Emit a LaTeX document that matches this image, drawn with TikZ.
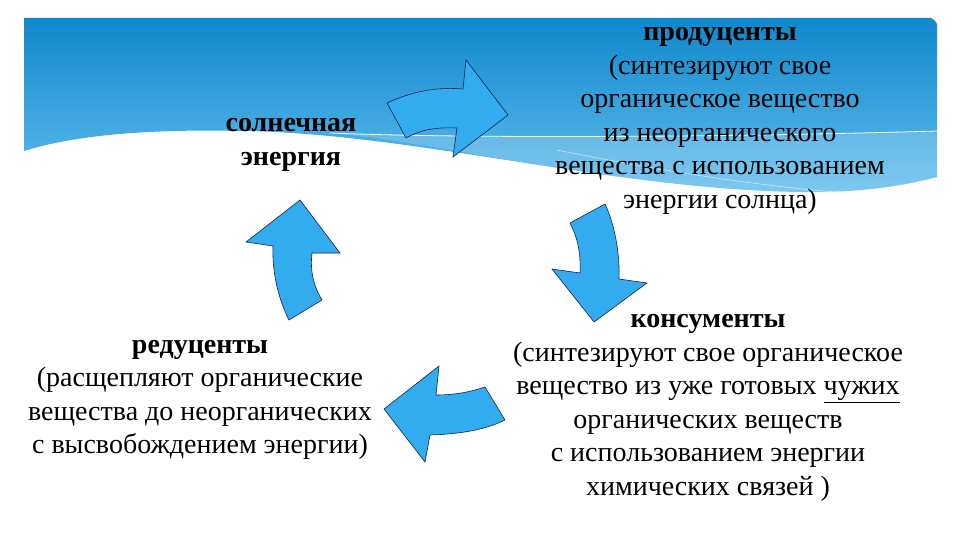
\documentclass[tikz,border=0pt]{standalone}
\usepackage{fontspec}
\setmainfont[Ligatures=TeX]{Liberation Serif}
\definecolor{bannertop}{RGB}{16,136,204}
\definecolor{bannerbot}{RGB}{98,190,238}
\definecolor{arrowblue}{RGB}{50,172,238}
\definecolor{arrowline}{RGB}{20,35,80}
\tikzset{
  cycletext/.style={align=center,inner sep=0pt,font=\fontsize{28}{33.5}\selectfont},
  cyclearrow/.style={fill=arrowblue,draw=arrowline,line width=.6pt,line join=miter}
}
\begin{document}
\begin{tikzpicture}[x=1pt,y=-1pt]
\useasboundingbox (0,0) rectangle (960,540);
% banner with wavy lower edge
\shade[top color=bannertop,bottom color=bannerbot]
  (24,151) -- (24,18) -- (931,18) to[bend left=20] (937,24) -- (937,177)
  .. controls (880,192) and (820,196) .. (720,188)
  .. controls (560,175) and (400,135) .. (250,131)
  .. controls (120,128) and (60,140) .. (24,151) -- cycle;
\fill[white,opacity=.18]
  (330,133) .. controls (450,138) and (700,138) .. (937,131) -- (937,177)
  .. controls (880,192) and (820,196) .. (720,188)
  .. controls (560,175) and (420,140) .. (330,133) -- cycle;
\draw[white,line width=.8pt] (330,133) .. controls (450,138) and (700,138) .. (937,131);
\draw[white,opacity=.6,line width=.6pt] (557,150) .. controls (680,175) and (780,188) .. (847,193);
% texts
\node[cycletext] (sun) at (291,145) {\textbf{солнечная}\\\textbf{энергия}};
\node[cycletext] (prod) at (720,121) {\textbf{продуценты}\\(синтезируют свое\\органическое вещество\\из неорганического\\вещества с использованием\\энергии солнца)};
\node[cycletext] (cons) at (708,408) {\textbf{консументы}\\(синтезируют свое органическое\\вещество из уже готовых \underline{чужих}\\органических веществ\\с использованием энергии\\химических связей )};
\node[cycletext] (red) at (200,400) {\textbf{редуценты}\\(расщепляют органические\\вещества до неорганических\\с высвобождением энергии)};
% arrows of the cycle
\draw[cyclearrow] (387,103) .. controls (415,90) and (440,87) .. (463,89) -- (466,60) -- (508,115)
  -- (453,157) -- (457,128) .. controls (435,127) and (420,130) .. (406,138) -- cycle;
\draw[cyclearrow] (570,223) -- (605,204) .. controls (615,225) and (620,255) .. (619,279) -- (647,283)
  -- (594,322) -- (552,269) -- (580,273) .. controls (581,255) and (578,238) .. (570,223) -- cycle;
\draw[cyclearrow] (384,409) -- (439,366) -- (436,395) .. controls (455,395) and (470,392) .. (485,387)
  -- (505,420) .. controls (485,430) and (460,434) .. (430,435) -- (425,462) -- cycle;
\draw[cyclearrow] (300,200) -- (340,253) -- (312,253) .. controls (310,270) and (313,285) .. (322,300)
  -- (289,320) .. controls (278,298) and (272,272) .. (273,246) -- (246,242) -- cycle;
\end{tikzpicture}
\end{document}
